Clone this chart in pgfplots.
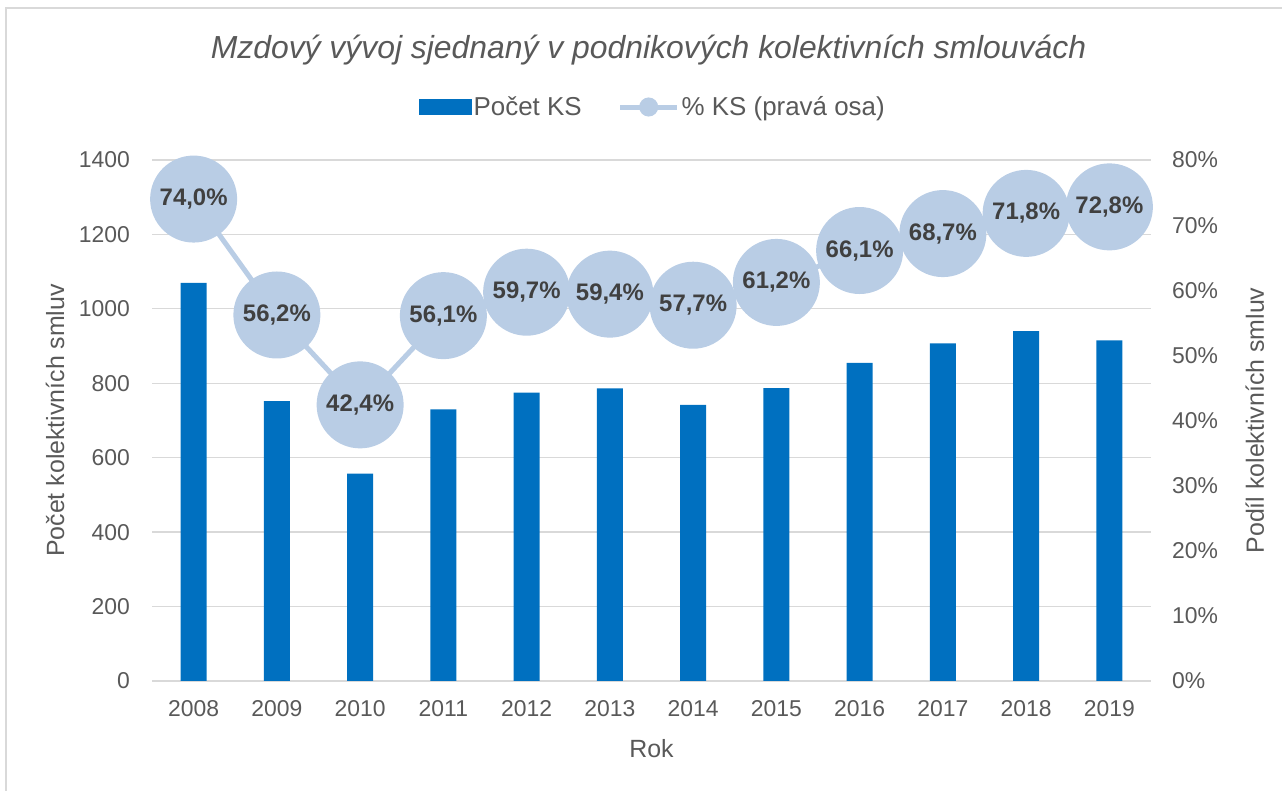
\documentclass[border=0pt]{standalone}
\usepackage{pgfplots}
\pgfplotsset{compat=1.18}
\usepackage{pgfplotstable}
\usepackage{fontspec}
\setmainfont{Liberation Sans}
\definecolor{barblue}{HTML}{0070C0}
\definecolor{lineblue}{HTML}{B9CDE5}
\definecolor{gridgray}{HTML}{D9D9D9}
\definecolor{textgray}{HTML}{595959}
\definecolor{labelgray}{HTML}{404040}
\pgfplotstableread{
x year cnt pct lab
0 2008 1070 74.0 74,0
1 2009 752 56.2 56,2
2 2010 557 42.4 42,4
3 2011 730 56.1 56,1
4 2012 775 59.7 59,7
5 2013 786 59.4 59,4
6 2014 742 57.7 57,7
7 2015 787 61.2 61,2
8 2016 855 66.1 66,1
9 2017 907 68.7 68,7
10 2018 940 71.8 71,8
11 2019 915 72.8 72,8
}\datatable
\begin{document}
\begin{tikzpicture}[x=1bp,y=1bp]
\useasboundingbox (0,0) rectangle (1282,791);
\draw[gridgray, line width=2bp] (6,0) -- (6,783) -- (1282,783);
\node[font=\fontsize{32}{36}\selectfont\itshape, text=textgray, anchor=base, inner sep=0pt] at (648.5,732) {Mzdový vývoj sjednaný v podnikových kolektivních smlouvách};
\begin{axis}[
  at={(152bp,110bp)}, anchor=south west, scale only axis,
  width=999bp, height=521bp,
  xmin=-0.5, xmax=11.5, ymin=0, ymax=1400,
  xtick={0,...,11},
  xticklabels={2008,2009,2010,2011,2012,2013,2014,2015,2016,2017,2018,2019},
  ytick={0,200,...,1400},
  ymajorgrids, grid style={gridgray, line width=1.3bp},
  axis line style={draw=none}, major tick length=0pt,
  tick label style={font=\fontsize{23}{23}\selectfont, text=textgray},
  /pgf/number format/assume math mode=true, /pgf/number format/1000 sep={},
  xticklabel style={anchor=base, yshift=-36bp},
  yticklabel style={anchor=east, inner sep=0pt, xshift=-22bp},
  ylabel={Počet kolektivních smluv},
  ylabel style={at={(axis description cs:-0.097,0.5)}, anchor=center, rotate=0, font=\fontsize{25}{25}\selectfont, text=textgray},
  xlabel={Rok},
  xlabel style={at={(axis description cs:0.5,-0.129)}, anchor=center, font=\fontsize{25}{25}\selectfont, text=textgray},
]
\addplot[ybar, bar width=26bp, fill=barblue, draw=none] table[x=x, y=cnt] {\datatable};
\end{axis}
\begin{axis}[
  at={(152bp,110bp)}, anchor=south west, scale only axis,
  width=999bp, height=521bp,
  xmin=-0.5, xmax=11.5, ymin=0, ymax=80,
  axis x line=none, axis y line*=right,
  ytick={0,10,...,80},
  yticklabel={\pgfmathprintnumber{\tick}\%},
  axis line style={draw=none}, major tick length=0pt,
  tick label style={font=\fontsize{23}{23}\selectfont, text=textgray},
  /pgf/number format/assume math mode=true,
  yticklabel style={anchor=west, inner sep=0pt, xshift=21bp},
  ylabel={Podíl kolektivních smluv},
  ylabel style={at={(axis description cs:1.104,0.5)}, anchor=center, rotate=0, font=\fontsize{25}{25}\selectfont, text=textgray},
  clip=false,
  legend columns=2,
  legend style={at={(axis description cs:0.5015,1.1017)}, anchor=center, draw=none, fill=none,
    font=\fontsize{26}{26}\selectfont, text=textgray,
    nodes={inner xsep=2bp, inner ysep=2bp},
    /tikz/every even column/.append style={column sep=34bp}},
]
\addlegendimage{legend image code/.code={\fill[barblue] (0bp,-7.5bp) rectangle (52bp,7.5bp);}}
\addlegendentry{Počet KS}
\addplot[lineblue, line width=5bp, mark=*, mark size=41bp,
  mark options={fill=lineblue, draw=none},
  legend image code/.code={\draw[lineblue, line width=5bp] (0bp,0bp) -- (57bp,0bp); \fill[lineblue] (28.5bp,0bp) circle (7bp);},
  point meta=explicit symbolic,
  nodes near coords={\pgfplotspointmeta\%},
  every node near coord/.append style={anchor=center, font=\fontsize{24}{24}\selectfont\bfseries, text=labelgray}
] table[x=x, y=pct, meta=lab] {\datatable};
\addlegendentry{\% KS (pravá osa)}
\end{axis}
\end{tikzpicture}
\end{document}
